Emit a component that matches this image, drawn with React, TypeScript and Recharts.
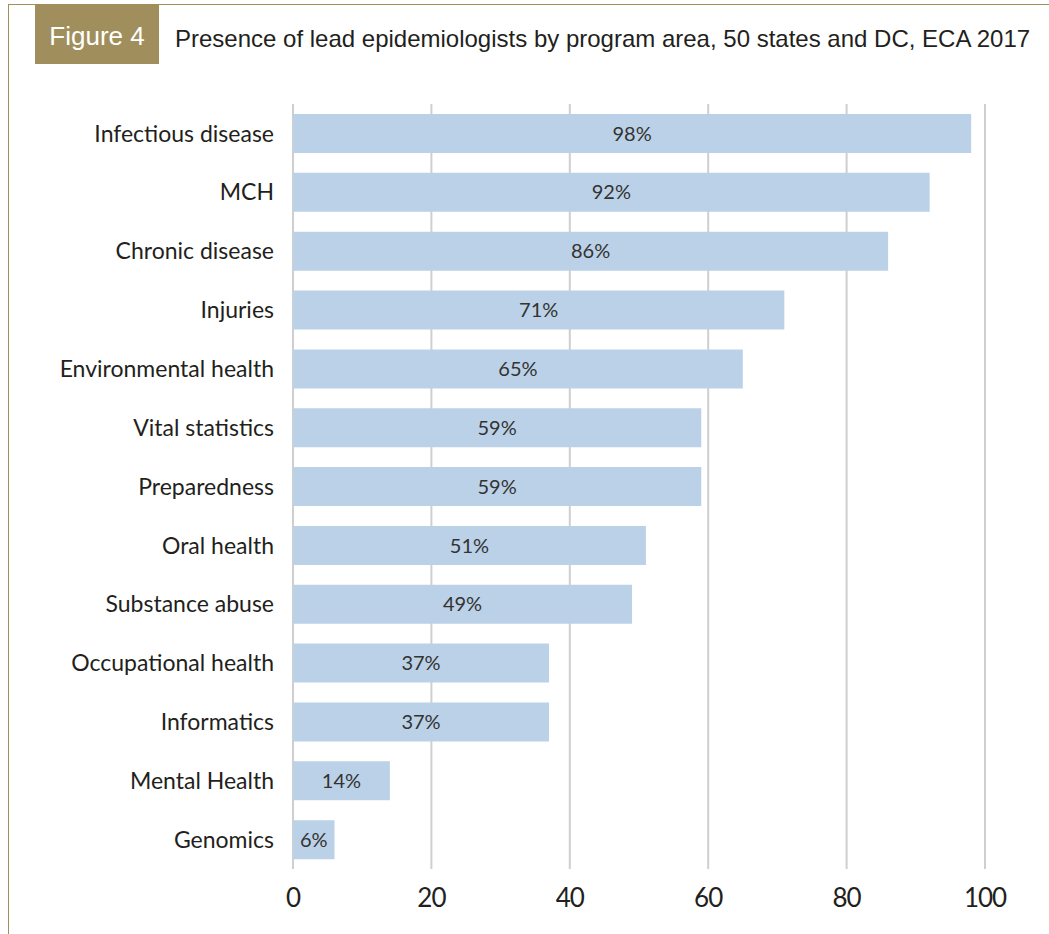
import { BarChart, Bar, XAxis, YAxis, CartesianGrid, LabelList } from 'recharts'

const categories = [
  'Infectious disease',
  'MCH',
  'Chronic disease',
  'Injuries',
  'Environmental health',
  'Vital statistics',
  'Preparedness',
  'Oral health',
  'Substance abuse',
  'Occupational health',
  'Informatics',
  'Mental Health',
  'Genomics',
]
const percents = [98, 92, 86, 71, 65, 59, 59, 51, 49, 37, 37, 14, 6]
const xTicks = [0, 20, 40, 60, 80, 100]

const OLIVE = '#a08f5c'
const TEXT = '#231f20'

export default function App() {
  const chartData = categories.map((name, i) => ({ name, value: percents[i] }))

  return (
    <div style={{ position: 'absolute', left: 0, top: 0, width: 1049, height: 934, background: '#fff', overflow: 'hidden' }}>
      {/* frame lines */}
      <div style={{ position: 'absolute', left: 8, top: 4, right: 0, height: 1, background: OLIVE }} />
      <div style={{ position: 'absolute', left: 8, top: 4, bottom: 0, width: 1, background: OLIVE }} />
      <div
        style={{
          position: 'absolute', left: 35, top: 5, width: 124, height: 59, background: OLIVE,
          color: '#fff', fontFamily: 'Arial, "Liberation Sans", sans-serif', fontSize: 26,
          display: 'flex', alignItems: 'center', justifyContent: 'center', paddingTop: 3, boxSizing: 'border-box',
        }}
      >
        Figure 4
      </div>
      <div
        style={{
          position: 'absolute', left: 175, top: 25, fontFamily: 'Arial, "Liberation Sans", sans-serif',
          fontSize: 24, color: TEXT, whiteSpace: 'nowrap',
        }}
      >
        Presence of lead epidemiologists by program area, 50 states and DC, ECA 2017
      </div>

      <div style={{ position: 'absolute', left: 0, top: 0 }}>
        <BarChart
          width={1049}
          height={934}
          data={chartData}
          layout="vertical"
          margin={{ top: 104, right: 64, bottom: 35, left: 0 }}
        >
          <CartesianGrid horizontal={false} stroke="#cfcfcf" strokeWidth={2} />
          <XAxis
            type="number"
            domain={[0, 100]}
            ticks={xTicks}
            axisLine={false}
            tickLine={false}
            tickMargin={14}
            tick={{ fill: TEXT, fontSize: 26, fontFamily: 'Lato', letterSpacing: -1 }}
          />
          <YAxis
            type="category"
            dataKey="name"
            width={293}
            axisLine={false}
            tickLine={false}
            tickMargin={13}
            interval={0}
            tick={{ fill: TEXT, fontSize: 23, fontFamily: 'Lato' }}
          />
          <Bar dataKey="value" fill="#bbd1e7" barSize={39} isAnimationActive={false}>
            <LabelList
              dataKey="value"
              position="center"
              formatter={(v: number) => `${v}%`}
              style={{ fill: '#333', fontSize: 20, fontFamily: 'Lato' }}
            />
          </Bar>
        </BarChart>
      </div>
    </div>
  )
}
